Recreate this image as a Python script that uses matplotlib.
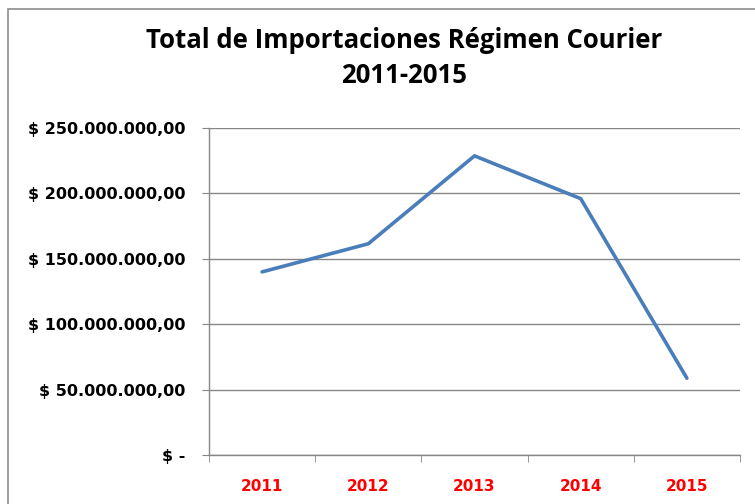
import matplotlib
matplotlib.use("Agg")
import matplotlib.pyplot as plt
from matplotlib.patches import Rectangle
from matplotlib.ticker import FixedLocator

years = ["2011", "2012", "2013", "2014", "2015"]
values = [140_000_000, 161_500_000, 228_700_000, 196_000_000, 58_700_000]
ytick_vals = [0, 50_000_000, 100_000_000, 150_000_000, 200_000_000, 250_000_000]
ytick_labels = ["$ -", "$ 50.000.000,00", "$ 100.000.000,00", "$ 150.000.000,00",
                "$ 200.000.000,00", "$ 250.000.000,00"]
title = "Total de Importaciones Régimen Courier\n2011-2015"

plt.rcParams['font.family'] = ['DejaVu Sans']

fig = plt.figure(figsize=(7.55, 5.04), dpi=100)
fig.patch.set_facecolor("white")
# outer chart frame
fig.patches.append(Rectangle((8/755, -0.1), 1.2, 1 - 9/504 + 0.1, transform=fig.transFigure,
                             fill=False, edgecolor="#8c8c8c", linewidth=1.2))

ax = fig.add_axes([209/755, 1 - 455/504, (740 - 209)/755, (455 - 128)/504])
x = list(range(len(years)))
ax.plot(x, values, color="#4A7EBB", linewidth=2.6, solid_capstyle="round", solid_joinstyle="round")

ax.set_xlim(-0.5, len(years) - 0.5)
ax.set_ylim(0, 250_000_000)
ax.set_yticks(ytick_vals)
ax.set_yticklabels(ytick_labels, fontsize=11.5, fontweight="bold", color="black")
ax.set_xticks(x)
ax.set_xticklabels(years, fontsize=11, fontweight="bold", color="#FF0000")
ax.xaxis.set_minor_locator(FixedLocator([i - 0.5 for i in range(len(years) + 1)]))
ax.tick_params(axis="x", which="major", length=0, pad=17)
ax.tick_params(axis="x", which="minor", length=5, color="#868686", direction="out")
ax.tick_params(axis="y", length=5, color="#868686", direction="out", pad=12)

ax.grid(axis="y", color="#868686", linewidth=1)
ax.set_axisbelow(True)
for s in ["top", "right"]:
    ax.spines[s].set_visible(False)
for s in ["left", "bottom"]:
    ax.spines[s].set_color("#868686")
    ax.spines[s].set_linewidth(1)

fig.text(404/755, 1 - 58/504, title, ha="center", va="center", fontsize=18.5,
         fontweight="bold", linespacing=1.4, family=["Open Sans", "DejaVu Sans"])

fig.savefig("out.png", dpi=100)
